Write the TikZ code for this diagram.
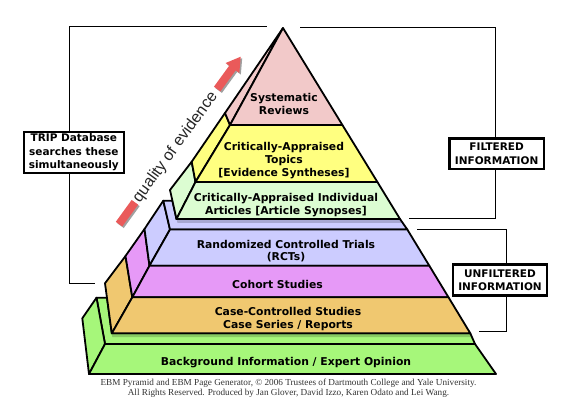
\documentclass[tikz,border=0pt]{standalone}
\usepackage{fontspec}
\setmainfont{DejaVu Sans}
\newfontfamily\arrowfont{Liberation Sans}
\newfontfamily\creditfont{Liberation Serif}
\definecolor{cPink}{HTML}{F2C9C9}
\definecolor{cYellow}{HTML}{FFFF80}
\definecolor{cLight}{HTML}{DCFDD2}
\definecolor{cLav}{HTML}{CCCCFF}
\definecolor{cMag}{HTML}{E699F7}
\definecolor{cOra}{HTML}{F0C870}
\definecolor{cGreen}{HTML}{A6F77A}
\definecolor{cRed}{HTML}{EA5A5A}
\definecolor{cShadow}{HTML}{A0A0A0}
\tikzset{
  face/.style={draw=black, line width=1.8pt, line join=round},
  layertext/.style={font=\fontsize{10.8}{12.8}\selectfont\bfseries, align=center, inner sep=0pt},
  infobox/.style={draw=black, line width=2.2pt, fill=white, font=\fontsize{10.5}{13.4}\selectfont\bfseries, align=center, inner sep=0pt},
  bracket/.style={draw=black, line width=0.9pt},
  shadowband/.style={fill=black, opacity=0.18},
  credit/.style={font=\creditfont\fontsize{9.2}{10}\selectfont, text=black!80, align=center, inner sep=0pt}
}
\begin{document}
\begin{tikzpicture}[x=1pt,y=-1pt]
\useasboundingbox[fill=white] (0,0) rectangle (581,416);

% brackets
\coordinate (lbA) at (266.7,26);
\coordinate (lbB) at (69.5,26);
\coordinate (lbC) at (69.5,283.3);
\coordinate (lbD) at (95,283.3);
\draw[bracket] (lbA) -- (lbB) -- (lbC) -- (lbD);
\coordinate (fbA) at (300,27.3);
\coordinate (fbB) at (495,27.3);
\coordinate (fbC) at (495,218.3);
\coordinate (fbD) at (409.3,218.3);
\draw[bracket] (fbA) -- (fbB) -- (fbC) -- (fbD);
\coordinate (ubA) at (417.3,229.3);
\coordinate (ubB) at (506.8,229.3);
\coordinate (ubC) at (506.8,331);
\coordinate (ubD) at (479,331);
\draw[bracket] (ubA) -- (ubB) -- (ubC) -- (ubD);

% green slab
\filldraw[face, fill=cGreen] (105,344) -- (96.5,297.7) -- (107,297.7) -- (111.8,333.3) -- (470.3,333.3) -- (475,344) -- cycle;
\fill[shadowband] (111.8,333.3) -- (470.3,333.3) -- (472,337) -- (112.3,337) -- cycle;
\filldraw[face, fill=cGreen] (89,374) -- (82.3,318.3) -- (96.5,297.7) -- (105,344) -- cycle;
\filldraw[face, fill=cGreen] (105,344) -- (475,344) -- (496,374) -- (89,374) -- cycle;

% lower group side faces
\filldraw[face, fill=cOra] (111.8,333.3) -- (105,283.3) -- (125.5,256) -- (132.3,297.3) -- cycle;
\filldraw[face, fill=cMag] (132.3,297.3) -- (125.5,256) -- (144.5,229) -- (149.5,265.7) -- cycle;
\filldraw[face, fill=cLav] (149.5,265.7) -- (144.5,229) -- (163.3,200.7) -- (170,229.5) -- cycle;
\filldraw[face, fill=cLav] (170,229.5) -- (163.3,200.7) -- (172.4,200.7) -- (176.5,219) -- (400,219) -- (407.3,229.5) -- cycle;
\fill[shadowband] (176.5,219) -- (400,219) -- (402.5,222.8) -- (177.5,222.8) -- cycle;

% lower group fronts
\filldraw[face, fill=cLav] (170,229.5) -- (407.3,229.5) -- (429.3,265.7) -- (149.5,265.7) -- cycle;
\filldraw[face, fill=cMag] (149.5,265.7) -- (429.3,265.7) -- (448.5,297.3) -- (132.3,297.3) -- cycle;
\filldraw[face, fill=cOra] (132.3,297.3) -- (448.5,297.3) -- (470.3,333.3) -- (111.8,333.3) -- cycle;

% upper group side faces
\filldraw[face, fill=cLight] (176.5,219) -- (170,190) -- (191.7,161.7) -- (195.5,182) -- cycle;
\filldraw[face, fill=cYellow] (195.5,182) -- (191.7,161.7) -- (225,113) -- (230,125) -- cycle;
\filldraw[face, fill=cPink] (230,125) -- (225,113) -- (283,28) -- cycle;

% upper group fronts
\filldraw[face, fill=cLight] (195.5,182) -- (377.4,182) -- (400,219) -- (176.5,219) -- cycle;
\filldraw[face, fill=cYellow] (230,125) -- (342.4,125) -- (377.4,182) -- (195.5,182) -- cycle;
\filldraw[face, fill=cPink] (283,28) -- (342.4,125) -- (230,125) -- cycle;

% layer texts
\node[layertext] (tSR) at (284,104) {Systematic\\Reviews};
\node[layertext] (tCAT) at (284,160.6) {Critically-Appraised\\Topics\\{[Evidence Syntheses]}};
\node[layertext] (tCAI) at (286,205) {Critically-Appraised Individual\\Articles [Article Synopses]};
\node[layertext] (tRCT) at (286,251.2) {Randomized Controlled Trials\\(RCTs)};
\node[layertext] (tCS) at (277.5,284) {Cohort Studies};
\node[layertext] (tCC) at (288,318.8) {Case-Controlled Studies\\Case Series / Reports};
\node[layertext] (tBG) at (286,362.5) {Background Information / Expert Opinion};

% info boxes
\node[infobox, minimum width=100pt, minimum height=41pt] (trip) at (73.85,152.35) {TRIP Database\\searches these\\simultaneously};
\node[infobox, minimum width=94.5pt, minimum height=30.5pt] (filt) at (496.65,153.65) {FILTERED\\INFORMATION};
\node[infobox, minimum width=94.5pt, minimum height=31pt] (unfilt) at (500,280) {UNFILTERED\\INFORMATION};

% quality arrow: shadow
\begin{scope}[shift={(242.2,58.2)}, rotate=54]
  \fill[cShadow] (-40,-4) rectangle (-13,4);
  \fill[cShadow] (-14,-8.5) -- (0,0) -- (-14,8.5) -- cycle;
  \fill[cShadow] (-207,-4) rectangle (-180,4);
\end{scope}
\begin{scope}[shift={(240.7,56.7)}, rotate=54]
  \fill[cRed] (-40,-4) rectangle (-13,4);
  \fill[cRed] (-14,-8.5) -- (0,0) -- (-14,8.5) -- cycle;
  \fill[cRed] (-207,-4) rectangle (-180,4);
\end{scope}
\node[rotate=54, font=\arrowfont\fontsize{16}{16}\selectfont, text=black!85, inner sep=0pt] (qoe) at (175.5,147.3) {quality of evidence};

% credits
\node[credit] (cred) at (288.5,388.5) {EBM Pyramid and EBM Page Generator, © 2006 Trustees of Dartmouth College and Yale University.\\All Rights Reserved. Produced by Jan Glover, David Izzo, Karen Odato and Lei Wang.};
\end{tikzpicture}
\end{document}
